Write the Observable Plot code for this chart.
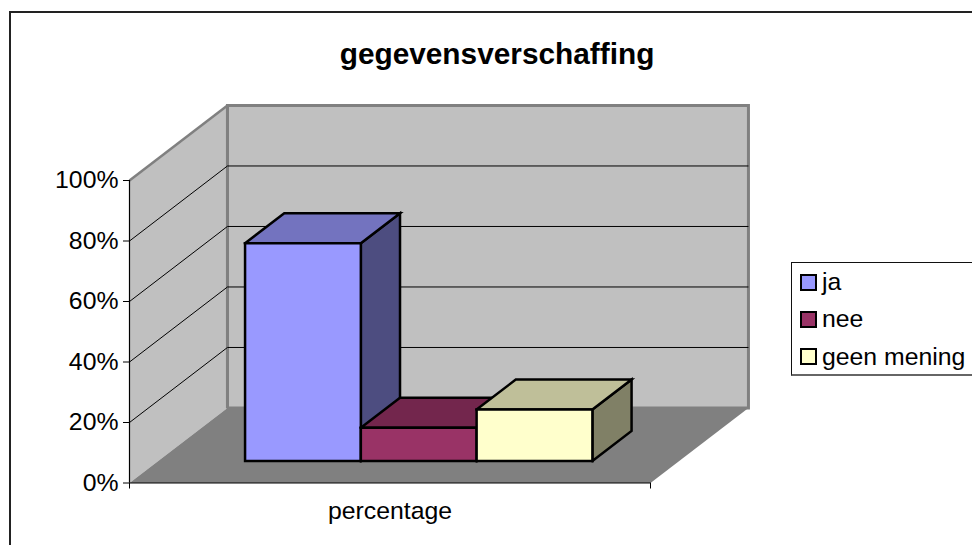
<!DOCTYPE html>
<html>
<head>
<meta charset="utf-8">
<script src="https://cdn.jsdelivr.net/npm/d3@7"></script>
<script src="https://cdn.jsdelivr.net/npm/@observablehq/plot@0.6"></script>
<style>
  html, body { margin: 0; padding: 0; background: #fff; overflow: hidden; width: 972px; height: 545px; }
  #wrap { position: relative; width: 972px; height: 545px; overflow: hidden; font-family: "Liberation Sans", Arial, sans-serif; color: #000; }
  #frame { position: absolute; left: 9px; top: 11px; width: 970px; height: 540px; box-sizing: border-box; border-left: 2px solid #222; border-top: 2px solid #222; pointer-events: none; }
  #legend { position: absolute; left: 791px; top: 262px; width: 200px; height: 114px; box-sizing: border-box; border: 1px solid #111; border-bottom: 2px solid #666; background: #fff; }
  .row { position: absolute; left: 8px; display: flex; align-items: center; font-size: 24.8px; line-height: 24px; white-space: nowrap; }
  .swatch { width: 13px; height: 13px; border: 2px solid #000; margin-right: 5px; flex: none; }
</style>
</head>
<body>
<div id="wrap"></div>
<script>
// Data
const title = "gegevensverschaffing";
const category = "percentage";
const seriesNames = ["ja", "nee", "geen mening"];
const seriesValues = [72, 11, 17];
const yTicks = [0, 20, 40, 60, 80, 100];
const gridValues = [20, 40, 60, 80];

// Colours: front, top and side of each bar
const frontColors = ["#9999ff", "#993366", "#ffffcc"];
const topColors = ["#7373bf", "#73264d", "#bfbf99"];
const sideColors = ["#4d4d80", "#4d1933", "#808066"];

// 3D layout, in units of the x scale (0..1), the y scale (percent) and depth (0..1)
const depthX = 0.188;
const depthY = 24.8;
const barDepthStart = 0.2933;
const barDepthEnd = 0.6933;
const barWidth = 1 / 4.5;
const barStart = 1.5 / 2 * barWidth;

const P = (u, v, d) => ({px: u + d * depthX, py: v + d * depthY});
const poly = (pts, fill, stroke, strokeWidth) =>
  Plot.line(pts.concat([pts[0]]), {
    x: "px", y: "py", fill, stroke: stroke || "none", strokeWidth: strokeWidth || 1,
    strokeLinejoin: "miter", strokeLinecap: "square", strokeMiterlimit: 10
  });
const seg = (a, b, stroke, strokeWidth) =>
  Plot.line([a, b], {x: "px", y: "py", stroke, strokeWidth, strokeLinecap: "butt"});

const wallGray = "#c0c0c0", edgeGray = "#808080";
const marks = [];

// Walls and floor
marks.push(poly([P(0,0,1), P(0,100,1), P(1,100,1), P(1,0,1)], wallGray, edgeGray, 3));
marks.push(poly([P(0,0,0), P(0,100,0), P(0,100,1), P(0,0,1)], wallGray));
marks.push(seg(P(0,100,0), P(0,100,1), edgeGray, 2.5));
marks.push(seg(P(0,0,1), P(0,100,1), edgeGray, 3));
marks.push(poly([P(0,0,0), P(0,0,1), P(1,0,1), P(1,0,0)], edgeGray));

// Gridlines on side and back wall
for (const g of gridValues) {
  marks.push(seg(P(0,g,0), P(0,g,1), "#000", 1));
  marks.push(seg(P(0,g,1), P(1,g,1), "#000", 1));
}

// Axes
marks.push(Plot.ruleX([0], {y1: 0, y2: 100, stroke: "#000", strokeWidth: 1.2}));
marks.push(Plot.ruleY([0], {x1: 0, x2: 1, stroke: "#000", strokeWidth: 1.2}));
marks.push(Plot.axisY({ticks: yTicks, tickFormat: d => d + "%", tickSize: 6, tickPadding: 5, fontSize: 24.8, label: null, stroke: "#000", fill: "#000"}));
marks.push(Plot.axisX({ticks: [0, 1], tickFormat: () => "", tickSize: 6, label: null, stroke: "#000"}));
marks.push(Plot.axisX({ticks: [0.5], tickFormat: () => category, tickSize: 0, tickPadding: 18, fontSize: 24.8, label: null, fill: "#000"}));

// Bars
seriesValues.forEach((val, i) => {
  const u0 = barStart + i * barWidth, u1 = u0 + barWidth;
  const d0 = barDepthStart, d1 = barDepthEnd;
  marks.push(poly([P(u1,0,d0), P(u1,val,d0), P(u1,val,d1), P(u1,0,d1)], sideColors[i], "#000", 2.5));
  marks.push(poly([P(u0,val,d0), P(u0,val,d1), P(u1,val,d1), P(u1,val,d0)], topColors[i], "#000", 2.5));
  marks.push(poly([P(u0,0,d0), P(u0,val,d0), P(u1,val,d0), P(u1,0,d0)], frontColors[i], "#000", 2.5));
});

// Title
marks.push(Plot.text([title], {x: 0.7054, y: 141.6, text: d => d, fontSize: 29.8, fontWeight: "bold", fill: "#000"}));

const chart = Plot.plot({
  width: 972, height: 545,
  marginLeft: 129, marginRight: 322, marginTop: 180, marginBottom: 62.5,
  x: {domain: [0, 1], axis: null},
  y: {domain: [0, 100], axis: null},
  style: {fontFamily: '"Liberation Sans", Arial, sans-serif', background: "transparent", overflow: "visible", color: "#000"},
  marks
});
const wrap = document.getElementById("wrap");
wrap.appendChild(chart);

const frame = document.createElement("div");
frame.id = "frame";
wrap.appendChild(frame);

const legend = document.createElement("div");
legend.id = "legend";
seriesNames.forEach((name, i) => {
  const row = document.createElement("div");
  row.className = "row";
  row.style.top = (7 + i * 37.3) + "px";
  const sw = document.createElement("span");
  sw.className = "swatch";
  sw.style.background = frontColors[i];
  const t = document.createElement("span");
  t.textContent = name;
  row.appendChild(sw); row.appendChild(t);
  legend.appendChild(row);
});
wrap.appendChild(legend);
</script>
</body>
</html>
